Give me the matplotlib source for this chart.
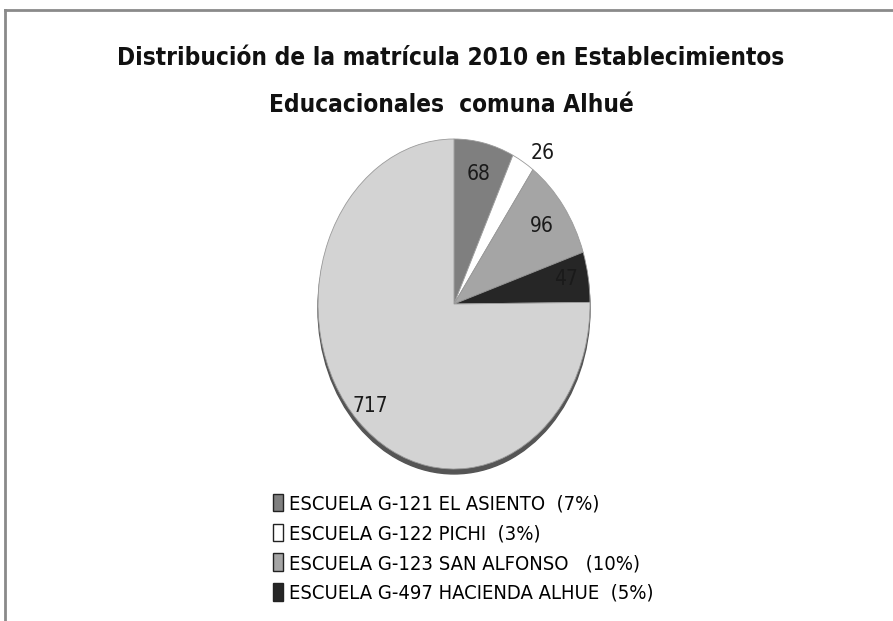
import matplotlib
matplotlib.use("Agg")
import matplotlib.pyplot as plt
from matplotlib import font_manager
from matplotlib.lines import Line2D
from matplotlib.patches import Ellipse
import numpy as np

# data
schools = [
    "ESCUELA G-121 EL ASIENTO  (7%)",
    "ESCUELA G-122 PICHI  (3%)",
    "ESCUELA G-123 SAN ALFONSO   (10%)",
    "ESCUELA G-497 HACIENDA ALHUE  (5%)",
    "OTROS",
]
enrolment = [68, 26, 96, 47, 717]
colors = ["#7f7f7f", "#ffffff", "#a5a5a5", "#262626", "#d3d3d3"]
# label placement: radius and angular nudge (deg) per slice
label_dist = [0.81, 1.125, 0.80, 0.84, 0.87]
label_turn = [0, -5, 0, 1, 0]

TITLE = ["Distribución de la matrícula 2010 en Establecimientos",
         "Educacionales  comuna Alhué"]

# condensed DejaVu is the closest to the narrow face of the original
names = {(f.name, str(f.stretch)) for f in font_manager.fontManager.ttflist}
if ("DejaVu Sans", "condensed") in names:
    FONT = dict(family=["DejaVu Sans"], stretch="condensed")
else:
    FONT = dict(family=["DejaVu Sans"])

W, H = 893, 621
fig = plt.figure(figsize=(W / 100, H / 100), dpi=100)

# frame lines (top and left only, as in the reference)
fig.add_artist(Line2D([5 / W, 1], [1 - 10 / H] * 2, color="#8a8a8a", lw=2))
fig.add_artist(Line2D([5 / W] * 2, [0, 1 - 10 / H], color="#8a8a8a", lw=2))

for line, base in zip(TITLE, [65, 112]):
    fig.text(0.505, 1 - base / H, line, ha="center", va="baseline", fontsize=17.5,
             fontweight="bold", color="#111111", **FONT)

# pie stretched into an ellipse: axes placed in pixels, aspect left free
cx, cy, rx, ry, m = 454, 304, 136, 165, 1.1
ax = fig.add_axes([(cx - rx * m) / W, 1 - (cy + ry * m) / H, 2 * rx * m / W, 2 * ry * m / H])
wedges, _ = ax.pie(enrolment, colors=colors, startangle=90, counterclock=False,
                   wedgeprops=dict(edgecolor="#9a9a9a", linewidth=0.6))
ax.add_patch(Ellipse((0, -0.03), 2, 2, color="#555555", zorder=0))
ax.set_aspect("auto")
ax.set_xlim(-m, m)
ax.set_ylim(-m, m)

for w, v, d, dt in zip(wedges, enrolment, label_dist, label_turn):
    t = np.deg2rad((w.theta1 + w.theta2) / 2 + dt)
    ax.text(d * np.cos(t), d * np.sin(t), str(v), ha="center", va="center",
            fontsize=15, color="#1a1a1a", **FONT)

leg = fig.legend(wedges[:4], schools[:4], loc="upper left",
                 bbox_to_anchor=(255 / W, 1 - 476 / H), frameon=False,
                 prop=dict(size=14.5, **FONT), handlelength=0.5,
                 handleheight=0.95, handletextpad=0.3, labelspacing=0.5)
for h in leg.legend_handles:
    h.set_edgecolor("#222222")
    h.set_linewidth(1.0)

fig.savefig("out.png", dpi=100)
